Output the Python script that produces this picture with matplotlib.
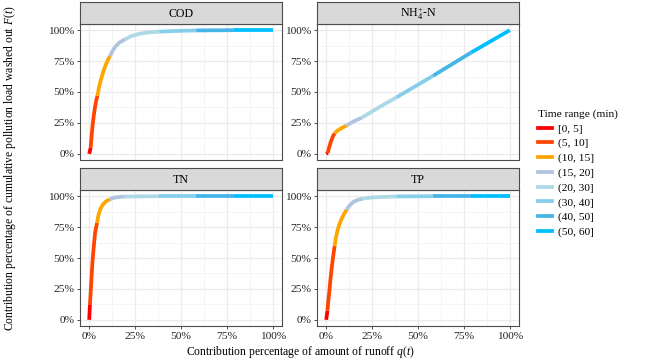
import numpy as np
import matplotlib
matplotlib.use('Agg')
import matplotlib.pyplot as plt
from matplotlib.lines import Line2D
from matplotlib.ticker import FixedLocator

plt.rcParams['font.family'] = ['Liberation Serif', 'DejaVu Serif']
plt.rcParams['mathtext.fontset'] = 'custom'
plt.rcParams['mathtext.rm'] = 'Liberation Serif'
plt.rcParams['mathtext.it'] = 'Liberation Serif:italic'

# Time ranges (legend) and their colours
ranges = ['[0, 5]', '(5, 10]', '(10, 15]', '(15, 20]',
          '(20, 30]', '(30, 40]', '(40, 50]', '(50, 60]']
colors = ['#FF0000', '#FF4500', '#FFA500', '#B0C4DE',
          '#ADD8E6', '#87CEEB', '#45B4E6', '#00BFFF']

# Points, one list per time range: (q %, F %)
cod = [
    [(0, 0), (0.8, 4.8)],
    [(0.8, 4.8), (1.3, 14), (1.9, 23.6), (2.5, 31), (3.2, 38), (3.8, 43), (4.5, 47)],
    [(4.5, 47), (5.5, 55), (6.6, 61), (7.8, 67), (9.0, 72), (10.2, 76), (11.3, 79)],
    [(11.3, 79), (12.8, 83.5), (14.4, 87), (16.5, 90), (19.4, 92.5)],
    [(19.4, 92.5), (23, 95.3), (28, 97.3), (33, 98.3), (38.2, 98.8)],
    [(38.2, 98.8), (48, 99.4), (58.3, 99.8)],
    [(58.3, 99.8), (78.8, 100)],
    [(78.8, 100), (100, 100)],
]
nh4 = [
    [(0, 0), (0.9, 0.8)],
    [(0.9, 0.8), (1.3, 3.5), (1.8, 6.1), (2.4, 9.2), (3.1, 12), (3.8, 14.5), (4.6, 16.6)],
    [(4.6, 16.6), (6.0, 18.6), (7.6, 20.1), (9.3, 21.5), (11.0, 22.8)],
    [(11.0, 22.8), (15, 26.3), (19.4, 29.2)],
    [(19.4, 29.2), (28.5, 37.4), (38.2, 45.6)],
    [(38.2, 45.6), (58.3, 63.2)],
    [(58.3, 63.2), (78.8, 81.8)],
    [(78.8, 81.8), (100, 100)],
]
tn = [
    [(0, 0), (0.4, 12)],
    [(0.4, 12), (0.8, 22), (1.2, 32), (1.7, 45), (2.3, 56), (2.8, 64), (3.2, 70),
     (3.8, 75), (4.3, 78.3)],
    [(4.3, 78.3), (5.1, 85), (6.2, 90), (7.5, 93.3), (8.9, 95.4), (10.0, 96.6), (11.3, 97.4)],
    [(11.3, 97.4), (12.8, 98.4), (14.4, 99), (16.5, 99.4), (19.4, 99.7)],
    [(19.4, 99.7), (38.2, 100)],
    [(38.2, 100), (58.3, 100)],
    [(58.3, 100), (78.8, 100)],
    [(78.8, 100), (100, 100)],
]
tp = [
    [(0, 0), (0.7, 7.5)],
    [(0.7, 7.5), (1.2, 16), (1.8, 24), (2.4, 34), (3.1, 43), (3.8, 51.5), (4.6, 59.7)],
    [(4.6, 59.7), (5.3, 66.5), (6.2, 72.6), (7.3, 77.7), (8.5, 82), (9.8, 85.8), (11.2, 89.2)],
    [(11.2, 89.2), (12.9, 92.8), (14.9, 95.4), (17, 96.9), (19.6, 97.9)],
    [(19.6, 97.9), (23, 98.7), (28, 99.2), (38.2, 99.8)],
    [(38.2, 99.8), (58.3, 100)],
    [(58.3, 100), (78.8, 100)],
    [(78.8, 100), (100, 100)],
]

panels = [('COD', cod), ('NH$_4^{+}$-N', nh4), ('TN', tn), ('TP', tp)]

W, H = 650, 359
fig = plt.figure(figsize=(W / 100, H / 100), dpi=100)

lefts = [80, 317]
tops = [24, 190]
pw, ph, sh = 202, 136, 22
border = '#4D4D4D'
ticks = [0, 25, 50, 75, 100]
tlabels = ['0%', '25%', '50%', '75%', '100%']

for k, (name, segs) in enumerate(panels):
    row, col = divmod(k, 2)
    x0, y0 = lefts[col], tops[row]
    ax = fig.add_axes([x0 / W, 1 - (y0 + ph) / H, pw / W, ph / H])
    for seg, c in zip(segs, colors):
        q = [p[0] for p in seg]
        f = [p[1] for p in seg]
        ax.plot(q, f, color=c, lw=2.7, solid_capstyle='butt',
                solid_joinstyle='round')
    ax.set_xlim(-5, 105)
    ax.set_ylim(-5, 105)
    ax.xaxis.set_major_locator(FixedLocator(ticks))
    ax.yaxis.set_major_locator(FixedLocator(ticks))
    ax.xaxis.set_minor_locator(FixedLocator([12.5, 37.5, 62.5, 87.5]))
    ax.yaxis.set_minor_locator(FixedLocator([12.5, 37.5, 62.5, 87.5]))
    ax.grid(which='major', color='#EBEBEB', lw=0.9)
    ax.grid(which='minor', color='#F2F2F2', lw=0.5)
    ax.set_axisbelow(True)
    ax.set_yticklabels(tlabels)
    ax.tick_params(which='minor', length=0)
    ax.tick_params(which='major', length=2.5, width=0.6, color='#333333',
                   labelsize=8.2, labelcolor='#222222', pad=1.5)
    if row == 0:
        ax.tick_params(axis='x', which='both', bottom=False, labelbottom=False)
    else:
        ax.set_xticklabels(tlabels)
    for s in ax.spines.values():
        s.set_color(border)
        s.set_linewidth(0.8)

    sax = fig.add_axes([x0 / W, 1 - y0 / H, pw / W, sh / H])
    sax.set_facecolor('#D9D9D9')
    sax.set_xticks([])
    sax.set_yticks([])
    for s in sax.spines.values():
        s.set_color(border)
        s.set_linewidth(0.8)
    sax.text(0.5, 0.45, name, ha='center', va='center', fontsize=8.6,
             transform=sax.transAxes)

fig.text(300 / W, 1 - 352 / H,
         r'Contribution percentage of amount of runoff $\mathit{q}$($\mathit{t}$)',
         ha='center', va='center', fontsize=8.4)
fig.text(10 / W, 1 - 168 / H,
         r'Contribution percentage of cumulative pollution load washed out $\mathit{F}$($\mathit{t}$)',
         ha='center', va='center', rotation=90, fontsize=8.4)

handles = [Line2D([0], [0], color=c, lw=2.7) for c in colors]
leg = fig.legend(handles, ranges, title='Time range (min)',
                 loc='upper left', bbox_to_anchor=(533 / W, 1 - 105 / H),
                 frameon=False, fontsize=8.2, title_fontsize=8.2,
                 handlelength=1.3, handletextpad=0.5, labelspacing=0.4,
                 borderaxespad=0)
leg._legend_box.align = 'left'

fig.savefig('out.png', dpi=100)
